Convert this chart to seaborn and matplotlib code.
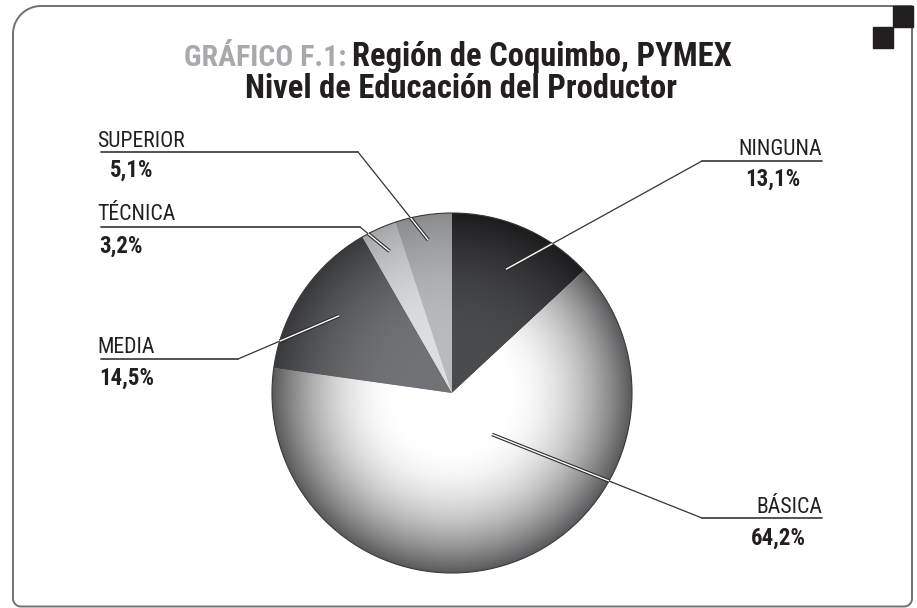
import numpy as np
import matplotlib
matplotlib.use('Agg')
import matplotlib.pyplot as plt
from matplotlib import font_manager
from matplotlib.colors import to_rgb
from matplotlib.patches import Rectangle
import seaborn as sns

# data
categories = ['NINGUNA', 'BÁSICA', 'MEDIA', 'TÉCNICA', 'SUPERIOR']
shares = [13.1, 64.2, 14.5, 3.2, 5.1]
share_labels = ['13,1%', '64,2%', '14,5%', '3,2%', '5,1%']

# slice shading: tone at the centre and at the rim
inner_colors = ['#4a4b4e', '#ffffff', '#717276', '#dddee0', '#b9babd']
rim_colors = ['#1c1c1e', '#5a5a5c', '#38393c', '#a6a7aa', '#8a8b8e']

# label layout (pixel coords, y from top)
label_side = ['right', 'right', 'left', 'left', 'left']
label_x = [822, 822, 97, 97, 97]
label_y = [155, 513, 353, 220, 147]
line_x = [(702, 822), (702, 822), (101, 238), (101, 360), (101, 358)]
line_y = [161, 518, 359, 227, 152]
pct_x = [773, 778, 99, 99, 110]
pct_y = [179, 538, 378, 246, 170]
pct_ha = ['center', 'center', 'left', 'left', 'left']
anchor_r = [0.75, 0.32, 0.76, 0.86, 0.86]
anchor_ang = [None, -46, None, None, None]

W, H = 917, 608
DARK = '#231f20'

sns.set_theme(style='white')
names = {f.name for f in font_manager.fontManager.ttflist}
narrow = next((n for n in ['Liberation Sans Narrow', 'Roboto Condensed', 'DejaVu Sans'] if n in names))
plt.rcParams['font.family'] = [narrow, 'DejaVu Sans']

fig = plt.figure(figsize=(W / 100, H / 100), dpi=100)
ax = fig.add_axes([0, 0, 1, 1])

cx, cy, R = 452, H - 393, 180
wedges, _ = ax.pie(shares, startangle=90, counterclock=False, center=(cx, cy),
                   radius=R, colors=inner_colors, wedgeprops=dict(linewidth=0),
                   frame=True)

# radial shading inside each wedge
g = np.linspace(-1, 1, 500)
gx, gy = np.meshgrid(g, g)
rr = np.hypot(gx, gy)
f = np.clip((rr - 0.3) / 0.7, 0, 1) ** 1.9
for w, c0, c1 in zip(wedges, inner_colors, rim_colors):
    a = np.array(to_rgb(c0))
    b = np.array(to_rgb(c1))
    img = a + (b - a) * f[..., None]
    im = ax.imshow(img, extent=(cx - R, cx + R, cy - R, cy + R), origin='lower',
                   zorder=2, interpolation='bilinear')
    im.set_clip_path(w)
ax.add_patch(plt.Circle((cx, cy), R, fill=False, ec='#3a3a3a', lw=0.8, zorder=3))

# labels and leader lines
cum = np.concatenate([[0], np.cumsum(shares)])
for i, cat in enumerate(categories):
    mid = 90 - 3.6 * (cum[i] + shares[i] / 2)
    ang = np.radians(anchor_ang[i] if anchor_ang[i] is not None else mid)
    P = np.array([cx + anchor_r[i] * R * np.cos(ang), cy + anchor_r[i] * R * np.sin(ang)])
    ex = line_x[i][0] if label_side[i] == 'right' else line_x[i][1]
    E = np.array([ex, H - line_y[i]])
    # where the leader crosses the rim
    d = E - P
    m = P - np.array([cx, cy])
    qa, qb, qc = d @ d, 2 * m @ d, m @ m - R ** 2
    t = (-qb + np.sqrt(qb ** 2 - 4 * qa * qc)) / (2 * qa)
    Q = P + t * d
    ax.plot([Q[0], E[0]], [Q[1], E[1]], color='#333333', lw=0.9, zorder=4)
    ax.plot([P[0], Q[0]], [P[1], Q[1]], color='#2b2b2b', lw=2.6, zorder=4,
            solid_capstyle='butt')
    ax.plot([P[0], Q[0]], [P[1], Q[1]], color='white', lw=1.0, zorder=5,
            solid_capstyle='butt')
    ax.plot(line_x[i], [H - line_y[i]] * 2, color='#444444', lw=1.3, zorder=4)
    ax.text(label_x[i], H - label_y[i], cat, ha=label_side[i], va='baseline',
            fontsize=15.7, color=DARK)
    ax.text(pct_x[i], H - pct_y[i], share_labels[i], ha=pct_ha[i], va='center',
            fontsize=16.5, fontweight='bold', color=DARK)

# title, first line in two colours
ax.text(346, H - 66, 'GRÁFICO F.1:', color='#a7a9ac', fontsize=21.5,
        fontweight='bold', ha='right', va='baseline')
ax.text(352, H - 66, 'Región de Coquimbo, PYMEX', color=DARK, fontsize=23.5,
        fontweight='bold', ha='left', va='baseline')
ax.text(461, H - 98, 'Nivel de Educación del Productor', color=DARK, fontsize=23.5,
        fontweight='bold', ha='center', va='baseline')

# rounded frame
def arc(xc, yc, rad, a0, a1):
    a = np.radians(np.linspace(a0, a1, 20))
    return xc + rad * np.cos(a), yc + rad * np.sin(a)

L, Rt, T, B = 13, 912, H - 6, 1.5
rt, rs = 28, 8
pts_x, pts_y = [], []
for seg in [arc(L + rt, T - rt, rt, 180, 90), arc(Rt, T, 0, 90, 90),
            arc(Rt - rs, B + rs, rs, 0, -90), arc(L + rs, B + rs, rs, -90, -180)]:
    pts_x.extend(seg[0])
    pts_y.extend(seg[1])
pts_x.append(pts_x[0])
pts_y.append(pts_y[0])
ax.plot(pts_x, pts_y, color='#707070', lw=1.4, clip_on=False, zorder=1)

ax.add_patch(Rectangle((893, H - 27), 20, 21, color=DARK, zorder=6))
ax.add_patch(Rectangle((873, H - 48), 20, 21, color=DARK, zorder=6))

ax.set_xlim(0, W)
ax.set_ylim(0, H)
ax.set_aspect('equal')
ax.axis('off')
fig.savefig('out.png', dpi=100, facecolor='white')
